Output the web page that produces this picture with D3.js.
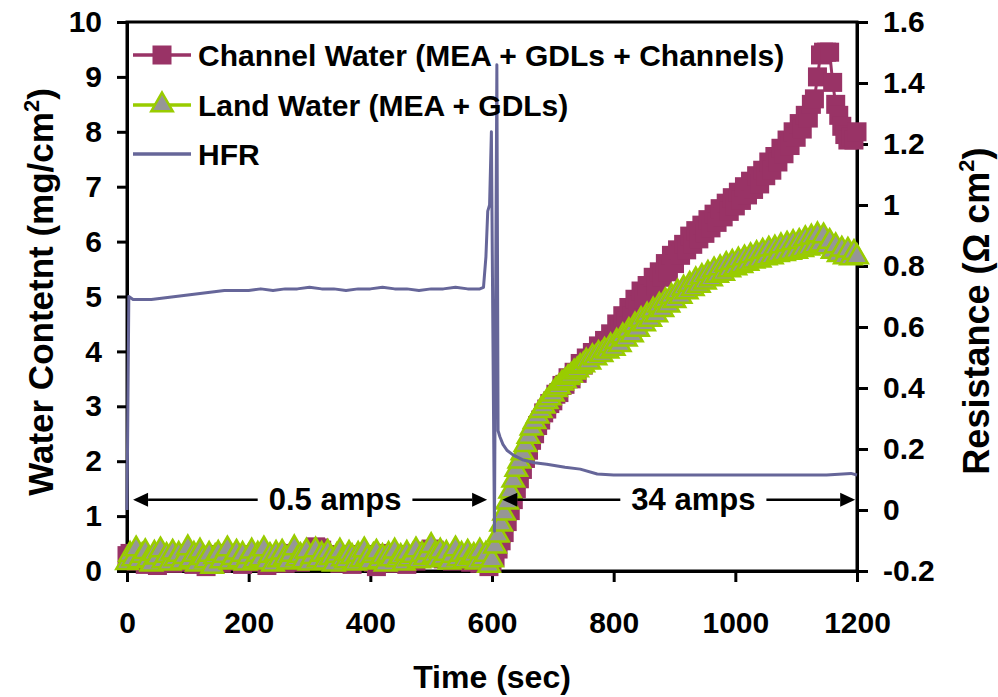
<!DOCTYPE html>
<html>
<head>
<meta charset="utf-8">
<script src="https://cdn.jsdelivr.net/npm/d3@7"></script>
<style>
  body { margin: 0; background: #fff; }
  text { font-family: "Liberation Sans", Arial, sans-serif; font-weight: bold; fill: #000; }
</style>
</head>
<body>
<div id="chart"></div>
<script>
// time axis (sec), 5 s steps for the two water series
var time = d3.range(0, 1201, 5);

var channelWater = [
  // 0 - 595 s
  0.28,0.32,0.22,0.18,0.30,0.25,0.12,0.20,0.28,0.24,
  0.10,0.18,0.26,0.30,0.22,0.14,0.27,0.32,0.20,0.16,
  0.24,0.30,0.12,0.22,0.28,0.18,0.08,0.20,0.26,0.30,
  0.22,0.14,0.28,0.32,0.24,0.18,0.26,0.20,0.12,0.24,
  0.30,0.22,0.16,0.26,0.30,0.20,0.10,0.24,0.28,0.18,
  0.22,0.30,0.14,0.20,0.26,0.32,0.24,0.16,0.28,0.22,
  0.30,0.36,0.44,0.42,0.38,0.30,0.24,0.18,0.28,0.22,
  0.14,0.26,0.30,0.20,0.12,0.24,0.28,0.18,0.22,0.30,
  0.24,0.16,0.08,0.20,0.28,0.32,0.22,0.14,0.26,0.20,
  0.30,0.24,0.12,0.22,0.28,0.18,0.26,0.32,0.24,0.36,
  0.40,0.38,0.34,0.28,0.22,0.30,0.26,0.18,0.24,0.28,
  0.20,0.30,0.24,0.16,0.28,0.22,0.14,0.26,0.20,0.08,
  // 600 - 1200 s
  0.15,0.25,0.40,0.55,0.70,0.90,1.10,1.30,1.50,1.68,
  1.85,2.05,2.20,2.38,2.50,2.65,2.75,2.88,2.95,3.05,
  3.10,3.22,3.25,3.38,3.40,3.52,3.50,3.62,3.60,3.78,
  3.75,3.88,3.85,3.98,3.95,4.10,4.05,4.20,4.15,4.32,
  4.25,4.50,4.40,4.65,4.55,4.80,4.65,4.95,4.85,5.10,
  4.95,5.20,5.05,5.35,5.20,5.45,5.35,5.60,5.45,5.75,
  5.60,5.85,5.75,5.95,5.85,6.10,5.95,6.20,6.05,6.30,
  6.15,6.40,6.25,6.50,6.35,6.60,6.45,6.70,6.55,6.80,
  6.65,6.90,6.75,7.00,6.85,7.10,6.95,7.20,7.05,7.30,
  7.20,7.45,7.30,7.55,7.45,7.70,7.60,7.85,7.75,8.00,
  7.90,8.15,8.05,8.30,8.25,8.50,8.60,9.00,9.40,9.45,
  9.45,9.45,8.90,8.50,8.30,8.10,7.95,7.85,7.90,7.85,
  8.00
];

var landWater = [
  // 0 - 595 s
  0.15,0.30,0.22,0.40,0.18,0.28,0.35,0.20,0.12,0.32,
  0.25,0.38,0.18,0.28,0.14,0.34,0.22,0.30,0.16,0.26,
  0.42,0.20,0.30,0.12,0.36,0.24,0.18,0.30,0.08,0.26,
  0.32,0.18,0.28,0.40,0.16,0.24,0.34,0.20,0.30,0.14,
  0.26,0.36,0.18,0.30,0.22,0.40,0.16,0.28,0.12,0.32,
  0.20,0.34,0.24,0.16,0.30,0.42,0.22,0.28,0.18,0.36,
  0.14,0.26,0.38,0.20,0.30,0.16,0.34,0.24,0.12,0.28,
  0.36,0.22,0.18,0.32,0.26,0.14,0.30,0.20,0.38,0.24,
  0.16,0.28,0.34,0.18,0.26,0.12,0.30,0.22,0.36,0.20,
  0.26,0.14,0.32,0.22,0.28,0.38,0.18,0.30,0.24,0.34,
  0.46,0.28,0.20,0.36,0.24,0.32,0.16,0.28,0.40,0.22,
  0.30,0.18,0.34,0.24,0.28,0.16,0.36,0.22,0.30,0.10,
  // 600 - 1200 s
  0.20,0.45,0.65,0.85,1.05,1.25,1.45,1.65,1.85,2.00,
  2.15,2.30,2.45,2.60,2.72,2.82,2.92,3.00,3.08,3.15,
  3.22,3.30,3.35,3.42,3.46,3.52,3.56,3.62,3.66,3.72,
  3.75,3.82,3.80,3.90,3.88,3.96,3.94,4.02,4.00,4.10,
  4.05,4.18,4.12,4.28,4.22,4.38,4.30,4.48,4.40,4.58,
  4.50,4.66,4.58,4.75,4.66,4.84,4.76,4.92,4.84,5.00,
  4.92,5.08,5.00,5.15,5.08,5.22,5.14,5.30,5.20,5.36,
  5.26,5.42,5.32,5.48,5.38,5.52,5.42,5.58,5.48,5.62,
  5.52,5.66,5.56,5.70,5.60,5.74,5.64,5.78,5.66,5.82,
  5.70,5.86,5.72,5.88,5.76,5.92,5.78,5.95,5.80,5.98,
  5.82,6.00,5.85,6.05,5.88,6.08,5.92,6.12,5.95,6.10,
  5.90,6.00,5.82,5.92,5.76,5.86,5.72,5.84,5.70,5.80,
  5.72
];

// HFR, secondary axis (ohm cm2)
var hfrTime = [0,3,10,20,40,60,80,100,120,140,160,180,200,220,240,260,280,300,320,340,360,380,400,420,440,460,480,500,520,540,560,580,586,590,593,596,599,601,604,608,610,613,618,625,635,650,670,690,720,745,773,800,850,900,950,1000,1050,1100,1150,1190,1200];
var hfr = [0.0,0.70,0.69,0.69,0.69,0.695,0.70,0.705,0.71,0.715,0.72,0.72,0.72,0.725,0.72,0.725,0.725,0.73,0.725,0.725,0.72,0.725,0.725,0.73,0.725,0.725,0.72,0.725,0.725,0.73,0.725,0.725,0.73,0.83,0.98,1.00,1.24,0.70,-0.07,1.46,0.26,0.24,0.215,0.195,0.18,0.165,0.155,0.15,0.14,0.134,0.118,0.115,0.115,0.115,0.115,0.115,0.115,0.115,0.115,0.12,0.115];

var leftTicks = d3.range(0, 11);
var rightTicks = [-0.2, 0, 0.2, 0.4, 0.6, 0.8, 1, 1.2, 1.4, 1.6];
var timeTicks = [0, 200, 400, 600, 800, 1000, 1200];

var legendLabels = ['Channel Water (MEA + GDLs + Channels)', 'Land Water (MEA + GDLs)', 'HFR'];
var annotations = [
  { label: '0.5 amps', from: 10, to: 592, at: 342 },
  { label: '34 amps', from: 617, to: 1197, at: 931 }
];
var annotationLevel = 1.3;

var width = 998;
var height = 697;
var plot = { left: 127, right: 857, top: 22, bottom: 571 };

var colorChannel = '#993366';
var colorLand = '#99cc00';
var colorLandFill = '#969696';
var colorHfr = '#666699';

var svg = d3.select('#chart')
  .append('svg')
  .attr('width', width)
  .attr('height', height);

var x = d3.scaleLinear().domain([0, 1200]).range([plot.left, plot.right]);
var yL = d3.scaleLinear().domain([0, 10]).range([plot.bottom, plot.top]);
var yR = d3.scaleLinear().domain([-0.2, 1.6]).range([plot.bottom, plot.top]);

// frame
svg.append('rect')
  .attr('x', plot.left).attr('y', plot.top)
  .attr('width', plot.right - plot.left).attr('height', plot.bottom - plot.top)
  .attr('fill', 'none').attr('stroke', '#000').attr('stroke-width', 3);

function styleAxis(g) {
  g.selectAll('path').attr('stroke', '#000').attr('stroke-width', 3);
  g.selectAll('line').attr('stroke', '#000').attr('stroke-width', 3);
  g.selectAll('text').attr('font-size', 30)
    .style('font-family', '"Liberation Sans", Arial, sans-serif').style('font-weight', 'bold');
}

svg.append('g')
  .attr('transform', 'translate(' + plot.left + ',0)')
  .call(d3.axisLeft(yL).tickValues(leftTicks).tickSize(10).tickSizeOuter(0).tickPadding(15)
    .tickFormat(d3.format('d')))
  .call(styleAxis);

svg.append('g')
  .attr('transform', 'translate(' + plot.right + ',0)')
  .call(d3.axisRight(yR).tickValues(rightTicks).tickSize(11).tickSizeOuter(0).tickPadding(15)
    .tickFormat(function(d) { return String(+d.toFixed(1)); }))
  .call(styleAxis);

svg.append('g')
  .attr('transform', 'translate(0,' + plot.bottom + ')')
  .call(d3.axisBottom(x).tickValues(timeTicks).tickSize(11).tickSizeOuter(0).tickPadding(30)
    .tickFormat(d3.format('d')))
  .call(styleAxis);

// series
var channelData = time.map(function(t, i) { return [t, channelWater[i]]; });
var landData = time.map(function(t, i) { return [t, landWater[i]]; });
var hfrData = hfrTime.map(function(t, i) { return [t, hfr[i]]; });

var lineL = d3.line().x(function(d) { return x(d[0]); }).y(function(d) { return yL(d[1]); });
var lineR = d3.line().x(function(d) { return x(d[0]); }).y(function(d) { return yR(d[1]); });

var sq = 19;
var tri = d3.symbol().type(d3.symbolTriangle).size(200);

svg.append('path').datum(channelData)
  .attr('d', lineL).attr('fill', 'none').attr('stroke', colorChannel).attr('stroke-width', 3);
svg.append('g').selectAll('rect')
  .data(channelData).enter().append('rect')
  .attr('x', function(d) { return x(d[0]) - sq / 2; })
  .attr('y', function(d) { return yL(d[1]) - sq / 2; })
  .attr('width', sq).attr('height', sq)
  .attr('fill', colorChannel);

svg.append('path').datum(landData)
  .attr('d', lineL).attr('fill', 'none').attr('stroke', colorLand).attr('stroke-width', 3);
svg.append('g').selectAll('path')
  .data(landData).enter().append('path')
  .attr('d', tri)
  .attr('transform', function(d) { return 'translate(' + x(d[0]) + ',' + yL(d[1]) + ')'; })
  .attr('fill', colorLandFill).attr('stroke', colorLand).attr('stroke-width', 2.5)
  .attr('stroke-linejoin', 'miter');

svg.append('path').datum(hfrData)
  .attr('d', lineR).attr('fill', 'none').attr('stroke', colorHfr).attr('stroke-width', 3)
  .attr('stroke-linejoin', 'round');

// arrows with current labels
var arrowY = yL(annotationLevel);
annotations.forEach(function(a) {
  var g = svg.append('g');
  var txt = g.append('text')
    .attr('x', x(a.at)).attr('y', arrowY).attr('dy', '0.35em')
    .attr('text-anchor', 'middle').attr('font-size', 31)
    .text(a.label);
  var w = txt.node().getComputedTextLength();
  var x0 = x(a.from), x1 = x(a.to), xc = x(a.at), gap = 11, head = 15;
  g.append('line').attr('x1', x0 + head).attr('x2', xc - w / 2 - gap)
    .attr('y1', arrowY).attr('y2', arrowY).attr('stroke', '#000').attr('stroke-width', 2.5);
  g.append('line').attr('x1', xc + w / 2 + gap).attr('x2', x1 - head)
    .attr('y1', arrowY).attr('y2', arrowY).attr('stroke', '#000').attr('stroke-width', 2.5);
  g.append('path')
    .attr('d', 'M' + x0 + ',' + arrowY + 'l' + head + ',-7v14z').attr('fill', '#000');
  g.append('path')
    .attr('d', 'M' + x1 + ',' + arrowY + 'l' + (-head) + ',-7v14z').attr('fill', '#000');
});

// legend
var legendY = [55, 105, 154];
var legend = svg.selectAll('.legend')
  .data(legendLabels).enter().append('g')
  .attr('class', 'legend')
  .attr('transform', function(d, i) { return 'translate(133,' + legendY[i] + ')'; });

legend.append('line')
  .attr('x1', 0).attr('x2', 58).attr('y1', 0).attr('y2', 0)
  .attr('stroke', function(d, i) { return [colorChannel, colorLand, colorHfr][i]; })
  .attr('stroke-width', 3.5);
legend.filter(function(d, i) { return i === 0; }).append('rect')
  .attr('x', 29 - sq / 2).attr('y', -sq / 2).attr('width', sq).attr('height', sq)
  .attr('fill', colorChannel);
legend.filter(function(d, i) { return i === 1; }).append('path')
  .attr('d', tri).attr('transform', 'translate(29,0)')
  .attr('fill', colorLandFill).attr('stroke', colorLand).attr('stroke-width', 2.5);
legend.append('text')
  .attr('x', 65).attr('dy', '0.35em').attr('font-size', 30)
  .text(function(d) { return d; });

// axis titles
svg.append('text')
  .attr('x', (plot.left + plot.right) / 2).attr('y', 688)
  .attr('text-anchor', 'middle').attr('font-size', 32)
  .text('Time (sec)');

var lt = svg.append('text')
  .attr('transform', 'translate(53,292) rotate(-90)')
  .attr('text-anchor', 'middle').attr('font-size', 35);
lt.append('tspan').text('Water Contetnt (mg/cm');
lt.append('tspan').attr('font-size', 22).attr('dy', -14).text('2');
lt.append('tspan').attr('dy', 14).text(')');

var rt = svg.append('text')
  .attr('transform', 'translate(989,311) rotate(-90)')
  .attr('text-anchor', 'middle').attr('font-size', 36);
rt.append('tspan').text('Resistance (\u03a9 cm');
rt.append('tspan').attr('font-size', 22).attr('dy', -15).text('2');
rt.append('tspan').attr('dy', 15).text(')');
</script>
</body>
</html>
